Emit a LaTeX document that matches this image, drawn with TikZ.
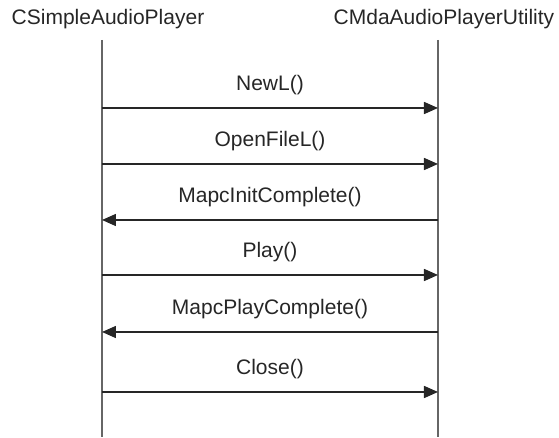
\documentclass[tikz,border=0pt]{standalone}
\usepackage{fontspec}
\setmainfont{Liberation Sans}
\usetikzlibrary{arrows.meta}

\definecolor{lifegray}{HTML}{666666}
\definecolor{msgblack}{HTML}{262626}

\begin{document}
\begin{tikzpicture}[
  x={(0.5pt,0pt)},
  y={(0pt,-0.5pt)},
  every node/.style={font=\fontsize{10.5}{12.6}\selectfont, text=msgblack, inner sep=0pt},
  lifeline/.style={lifegray, line width=1pt},
  msg/.style={msgblack, line width=0.75pt, -{Triangle[length=7pt,width=6pt]}}
]
\useasboundingbox (0,0) rectangle (559,438);

% objects
\node[anchor=base] (player) at (108,25) {CSimpleAudioPlayer};
\node[anchor=base] (utility) at (444,25) {CMdaAudioPlayerUtility};

\coordinate (playertop) at (102,40);
\coordinate (playerend) at (102,437);
\coordinate (utiltop) at (438,40);
\coordinate (utilend) at (438,437);
\draw[lifeline] (playertop) -- (playerend);
\draw[lifeline] (utiltop) -- (utilend);

% messages
\foreach \i/\y/\call/\dir in {
  1/108/NewL()/1,
  2/164/OpenFileL()/1,
  3/220/MapcInitComplete()/0,
  4/275/Play()/1,
  5/332/MapcPlayComplete()/0,
  6/392/Close()/1}
{
  \coordinate (left\i) at (102,\y);
  \coordinate (right\i) at (438,\y);
  \node[anchor=base] (call\i) at (270,\y-17) {\call};
  \ifnum\dir=1\relax
    \draw[msg] (left\i) -- (right\i);
  \else
    \draw[msg] (right\i) -- (left\i);
  \fi
}
\end{tikzpicture}
\end{document}
